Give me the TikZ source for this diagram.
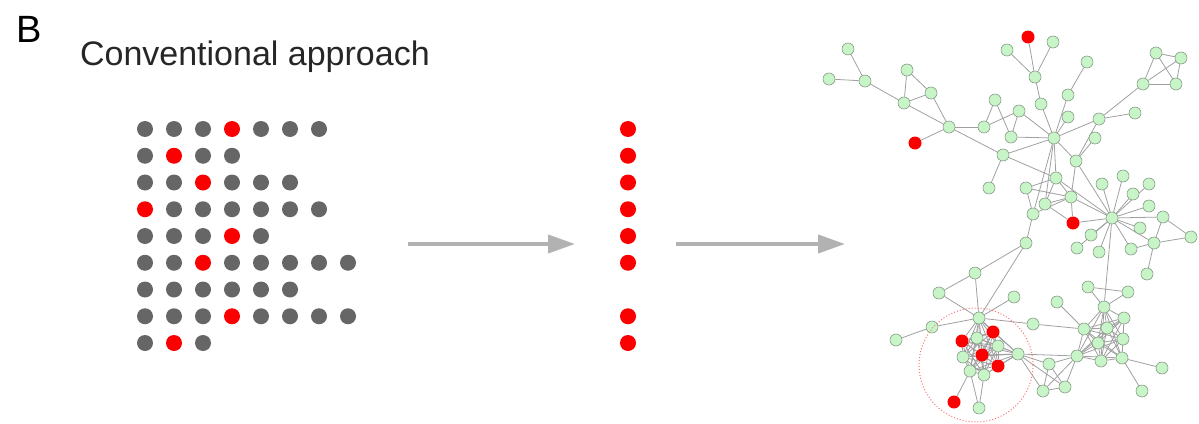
\documentclass[tikz,border=0pt]{standalone}
\usepackage{fontspec}
\setmainfont{Liberation Sans}
\usetikzlibrary{arrows.meta,backgrounds}

\definecolor{dotgray}{RGB}{102,102,102}
\definecolor{hitred}{RGB}{250,0,0}
\definecolor{leafgreen}{RGB}{200,245,200}
\definecolor{rimgray}{RGB}{135,155,135}
\definecolor{linkgray}{RGB}{160,160,160}
\definecolor{arrowgray}{RGB}{178,178,178}

\begin{document}
\begin{tikzpicture}[x=0.5pt, y=-0.5pt,
	dot/.style={circle, inner sep=0pt, minimum size=8pt, fill=dotgray},
	hit/.style={dot, fill=hitred},
	gene/.style={circle, inner sep=0pt, minimum size=6pt, fill=leafgreen, draw=rimgray, line width=0.3pt},
	seed/.style={circle, inner sep=0pt, minimum size=6.5pt, fill=hitred},
	link/.style={linkgray, line width=0.4pt},
	ring/.style={circle, draw=hitred!55, line width=0.5pt, dash pattern=on 0.5pt off 1pt, minimum size=57pt, inner sep=0pt},
	flow/.style={arrowgray, line width=2pt, -{Triangle[length=13.5pt, width=9pt]}}]
	\useasboundingbox (0,0) rectangle (1199,423);
	\node[anchor=base west, font=\fontsize{19}{22}\selectfont] (panel) at (9,42) {B};
	\node[anchor=base west, font=\fontsize{17}{20}\selectfont, text=black!85] (title) at (73,65) {Conventional approach};
	\foreach \r/\n/\k in {0/7/4,1/4/2,2/6/3,3/7/1,4/5/4,5/8/3,6/6/0,7/8/4,8/3/2} {
		\foreach \c in {1,...,\n} {
			\ifnum\c=\k \node[hit] (p\r-\c) at ({145+29*(\c-1)},{129+26.75*\r}) {};
			\else \node[dot] (p\r-\c) at ({145+29*(\c-1)},{129+26.75*\r}) {}; \fi
		}
	}
	\foreach \r in {0,1,2,3,4,5,7,8} \node[hit] (q\r) at (628,{129+26.75*\r}) {};
	\coordinate (go1) at (408,244);
	\coordinate (end1) at (575,244);
	\coordinate (go2) at (676,244);
	\coordinate (end2) at (845,244);
	\draw[flow] (go1) -- (end1);
	\draw[flow] (go2) -- (end2);
	\foreach \v/\x/\y in {n1/848/49, n2/829/79, n3/865/81, n4/907/70, n5/931/93, n6/904/103, n7/949/127,
		n8/984/127, n9/995/100, n10/1019/111, n11/1011/137, n12/1003/155, n13/1007/50, n14/1053/42,
		n15/1035/77, n16/1041/104, n17/1087/62, n18/1068/95, n19/1068/117, H1/1054/138, n20/1099/119,
		n21/1135/113, n22/1156/53, n23/1181/58, n24/1143/84, n25/1176/84, n26/1095/138, n27/1076/161,
		n28/1056/178, n29/989/188, n30/1026/188, n31/1071/197, n32/1045/204, n33/1033/214, H2/1112/218,
		n34/1102/184, n35/1123/176, n36/1149/184, n37/1133/194, n38/1149/206, n39/1163/217, n40/1140/228,
		n41/1154/243, n42/1191/237, n43/1091/235, n44/1077/248, n45/1099/252, n46/1131/249, n47/1147/274,
		n48/1026/243, n49/975/273, n50/939/293, n51/1014/297, n52/979/318, n53/932/327, n54/896/340,
		n55/1033/324, n56/977/338, n57/998/346, n58/963/357, n59/1018/354, n60/970/371, n61/984/375,
		n62/979/408, n63/1049/364, n64/1043/391, n65/1065/387, n66/1077/356, n67/1084/329, n68/1057/302,
		n69/1088/287, n70/1128/292, n71/1104/307, n72/1124/318, n73/1107/328, n74/1098/343, n75/1123/339,
		n76/1101/361, n77/1122/358, n78/1162/368, n79/1142/391}
		\node[gene] (\v) at (\x,\y) {};
	\foreach \v/\x/\y in {R1/915/143, R2/1028/37, R3/1073/223, R4/993/332, R5/962/341, R6/982/355,
		R7/998/366, R8/954/402}
		\node[seed] (\v) at (\x,\y) {};
	\node[ring] (module) at (976,365) {};
	\begin{pgfonlayer}{background}
		\foreach \a/\b in {n1/n3, n2/n3, n3/n6, n4/n6, n4/n5, n6/n5, n6/n7, n5/n7, R1/n7, n7/n8, n7/n12,
			n8/n9, n8/n10, n9/n11, n10/n11, n10/H1, n11/H1, n12/H1, R2/n15, n13/n15, n14/n15, n15/n16,
			n16/H1, n17/n18, n18/H1, n19/H1, H1/n20, n20/n21, n20/n24, n22/n23, n22/n24, n23/n25, n24/n25,
			n22/n25, n24/n23, n20/n27, n26/n27, H1/n27, n12/n29, n12/n28, H1/n32, H1/n33, H1/n28,
			n27/n31, n27/H2, n28/H2, n28/n31, n28/n30, n30/n31, n30/n33, n32/n31, n33/n31, n32/n28,
			n31/R3, n32/R3, R3/H2, n31/H2, n33/n48, n48/n49, n48/n52, n49/n50, n49/n52, n50/n52,
			n51/n52, n52/n53, n53/n54, n52/n55, n55/n67, H2/n34, H2/n35, H2/n36, H2/n37, H2/n38,
			H2/n39, H2/n40, H2/n41, H2/n43, H2/n44, H2/n45, H2/n46, H2/n71, n39/n41, n39/n42,
			n41/n42, n41/n46, n41/n47, n60/R8, n61/n62, n60/n62, n68/n67, n69/n70, n69/n71, n70/n71,
			n77/n78, n77/n79}
			\draw[link] (\a) -- (\b);
		\foreach \a [count=\i] in {n52,R4,R5,n56,n57,R6,n58,n59,R7,n60,n61} {
			\foreach \b [count=\j] in {n52,R4,R5,n56,n57,R6,n58,n59,R7,n60,n61} {
				\ifnum\j>\i \draw[link] (\a) -- (\b); \fi
			}
		}
		\foreach \a [count=\i] in {n67,n71,n72,n73,n74,n75,n66,n76,n77} {
			\foreach \b [count=\j] in {n67,n71,n72,n73,n74,n75,n66,n76,n77} {
				\ifnum\j>\i \draw[link] (\a) -- (\b); \fi
			}
		}
		\foreach \a [count=\i] in {n59,n63,n64,n65,n66} {
			\foreach \b [count=\j] in {n59,n63,n64,n65,n66} {
				\ifnum\j>\i \draw[link] (\a) -- (\b); \fi
			}
		}
	\end{pgfonlayer}
\end{tikzpicture}
\end{document}
